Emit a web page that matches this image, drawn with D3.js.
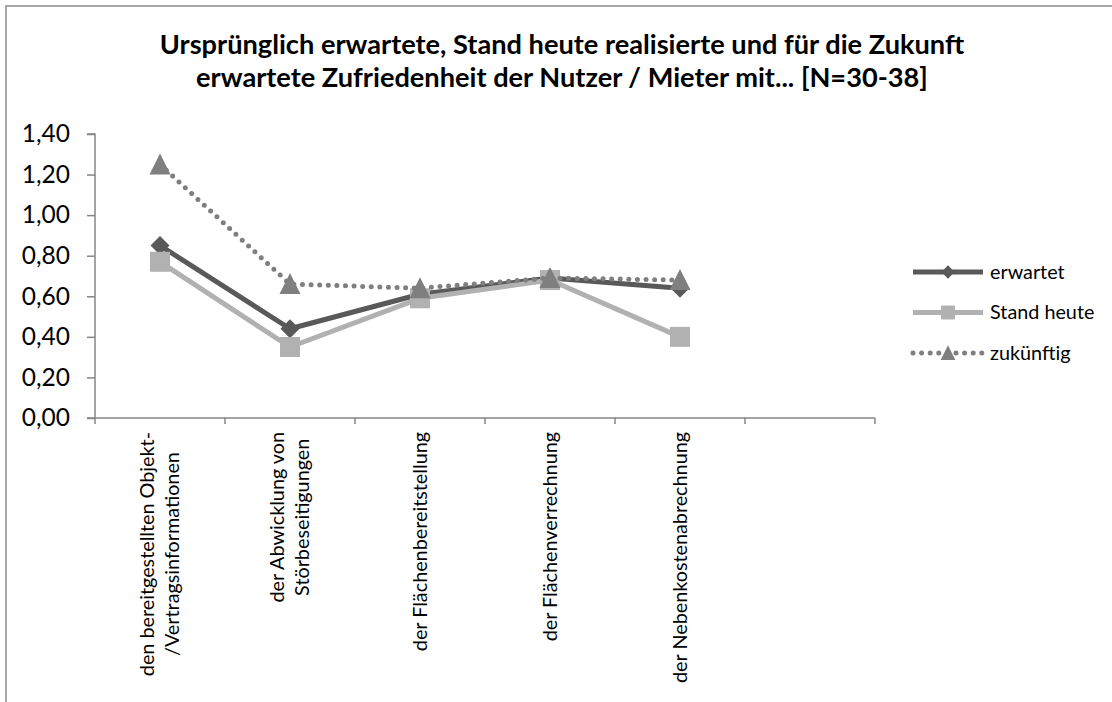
<!DOCTYPE html>
<html>
<head>
<meta charset="utf-8">
<script src="https://cdn.jsdelivr.net/npm/d3@7"></script>
<style>
  body { margin: 0; background: #fff; }
  svg { display: block; font-family: Lato, "Open Sans", sans-serif; }
</style>
</head>
<body>
<div class="chart"></div>
<script>
// data
const categories = [
  ["den bereitgestellten Objekt-", "/Vertragsinformationen"],
  ["der Abwicklung von", "Störbeseitigungen"],
  ["der Flächenbereitstellung"],
  ["der Flächenverrechnung"],
  ["der Nebenkostenabrechnung"],
  []
];
const erwartet    = [0.85, 0.44, 0.61, 0.69, 0.64];
const standHeute  = [0.77, 0.35, 0.59, 0.68, 0.40];
const zukuenftig  = [1.25, 0.66, 0.64, 0.69, 0.68];
const yTicks = [0, 0.2, 0.4, 0.6, 0.8, 1.0, 1.2, 1.4];
const titleLines = [
  "Ursprünglich erwartete, Stand heute realisierte und für die Zukunft",
  "erwartete Zufriedenheit der Nutzer / Mieter mit... [N=30-38]"
];

const series = [
  { name: "erwartet",    values: erwartet,   color: "#595959", marker: "diamond",  dash: null },
  { name: "Stand heute", values: standHeute, color: "#b1b1b1", marker: "square",   dash: null },
  { name: "zukünftig",   values: zukuenftig, color: "#7f7f7f", marker: "triangle", dash: "0 8.6" }
];

const width = 1112, height = 702;
const plot = { left: 95, right: 875, top: 134, bottom: 418 };

const svg = d3.select(".chart").append("svg")
  .attr("width", width)
  .attr("height", height);

// outer chart frame (cut off at right/bottom like the reference)
svg.append("rect")
  .attr("x", 6).attr("y", 6)
  .attr("width", width + 20).attr("height", height + 20)
  .attr("fill", "none")
  .attr("stroke", "#8c8c8c")
  .attr("stroke-width", 1.5);

svg.append("g")
  .attr("font-weight", "bold")
  .attr("font-size", 27.2)
  .attr("text-anchor", "middle")
  .selectAll("text")
  .data(titleLines)
  .join("text")
  .attr("x", 562)
  .attr("y", (d, i) => 54 + i * 33)
  .attr("fill", "#000")
  .text(d => d);

const x = d3.scaleBand()
  .domain(d3.range(categories.length))
  .range([plot.left, plot.right]);

const y = d3.scaleLinear()
  .domain([0, 1.4])
  .range([plot.bottom, plot.top]);

const fmt = v => d3.format(".2f")(v).replace(".", ",");

// y axis
const yAxis = svg.append("g")
  .attr("transform", `translate(${plot.left},0)`)
  .call(d3.axisLeft(y).tickValues(yTicks).tickFormat(fmt).tickSize(8).tickPadding(17));
yAxis.selectAll("path, line").attr("stroke", "#868686").attr("stroke-width", 1.5);
yAxis.select(".domain").attr("d", `M-8,${y(1.4)}H0V${y(0)}H-8`);
yAxis.selectAll("text")
  .attr("font-family", "Lato, sans-serif")
  .attr("font-size", 24.5)
  .attr("fill", "#000");

// x axis: ticks at band boundaries
const xAxis = svg.append("g");
xAxis.append("line")
  .attr("x1", plot.left).attr("x2", plot.right)
  .attr("y1", y(0)).attr("y2", y(0))
  .attr("stroke", "#868686").attr("stroke-width", 1.5);
xAxis.selectAll(".tick")
  .data(d3.range(categories.length + 1))
  .join("line")
  .attr("x1", i => i < categories.length ? x(i) : x(categories.length - 1) + x.bandwidth())
  .attr("x2", i => i < categories.length ? x(i) : x(categories.length - 1) + x.bandwidth())
  .attr("y1", y(0)).attr("y2", y(0) + 6)
  .attr("stroke", "#868686").attr("stroke-width", 1.5);

// category labels, rotated, centred lines, top aligned just under the axis
const labelTop = y(0) + 14;
const labelG = xAxis.selectAll(".cat")
  .data(categories)
  .join("g")
  .attr("class", "cat")
  .attr("font-size", 19.8)
  .attr("text-anchor", "middle");

labelG.each(function(lines, i) {
  const g = d3.select(this);
  const texts = g.selectAll("text")
    .data(lines)
    .join("text")
    .attr("y", (d, j) => (j - (lines.length - 1) / 2) * 25)
    .attr("dy", "0.35em")
    .attr("fill", "#000")
    .text(d => d);
  let maxLen = 0;
  texts.each(function() { maxLen = Math.max(maxLen, this.getComputedTextLength()); });
  texts.attr("x", -maxLen / 2);
  g.attr("transform", `translate(${x(i) + x.bandwidth() / 2},${labelTop}) rotate(-90)`);
});

// markers
const markerSize = { diamond: 9.5, square: 10, triangle: 10.5 };
function markerPath(type) {
  const s = markerSize[type];
  if (type === "diamond") return `M0,${-s}L${s},0L0,${s}L${-s},0Z`;
  if (type === "square") return `M${-s},${-s}H${s}V${s}H${-s}Z`;
  return `M0,${-s * 1.05}L${s},${s * 0.95}H${-s}Z`;
}

const line = d3.line()
  .x((d, i) => x(i) + x.bandwidth() / 2)
  .y(d => y(d));

series.forEach(s => {
  const g = svg.append("g");
  g.append("path")
    .attr("d", line(s.values))
    .attr("fill", "none")
    .attr("stroke", s.color)
    .attr("stroke-width", 5)
    .attr("stroke-linejoin", "round")
    .attr("stroke-linecap", s.dash ? "round" : "butt")
    .attr("stroke-dasharray", s.dash);
  g.selectAll(".m")
    .data(s.values)
    .join("path")
    .attr("transform", (d, i) => `translate(${x(i) + x.bandwidth() / 2},${y(d)})`)
    .attr("d", markerPath(s.marker))
    .attr("fill", s.color);
});

// legend
const legend = svg.append("g")
  .attr("font-size", 19.8);
const legRow = legend.selectAll("g")
  .data(series)
  .join("g")
  .attr("transform", (d, i) => `translate(913,${272 + i * 40.5})`);
legRow.append("line")
  .attr("x1", 0).attr("x2", 70)
  .attr("stroke", d => d.color)
  .attr("stroke-width", 5)
  .attr("stroke-linecap", d => d.dash ? "round" : "butt")
  .attr("stroke-dasharray", d => d.dash ? "0 8.6" : null);
legRow.append("path")
  .attr("transform", "translate(35,0) scale(0.7)")
  .attr("d", d => markerPath(d.marker))
  .attr("fill", d => d.color);
legRow.append("text")
  .attr("x", 77)
  .attr("dy", "0.35em")
  .attr("fill", "#000")
  .text(d => d.name);
</script>
</body>
</html>
